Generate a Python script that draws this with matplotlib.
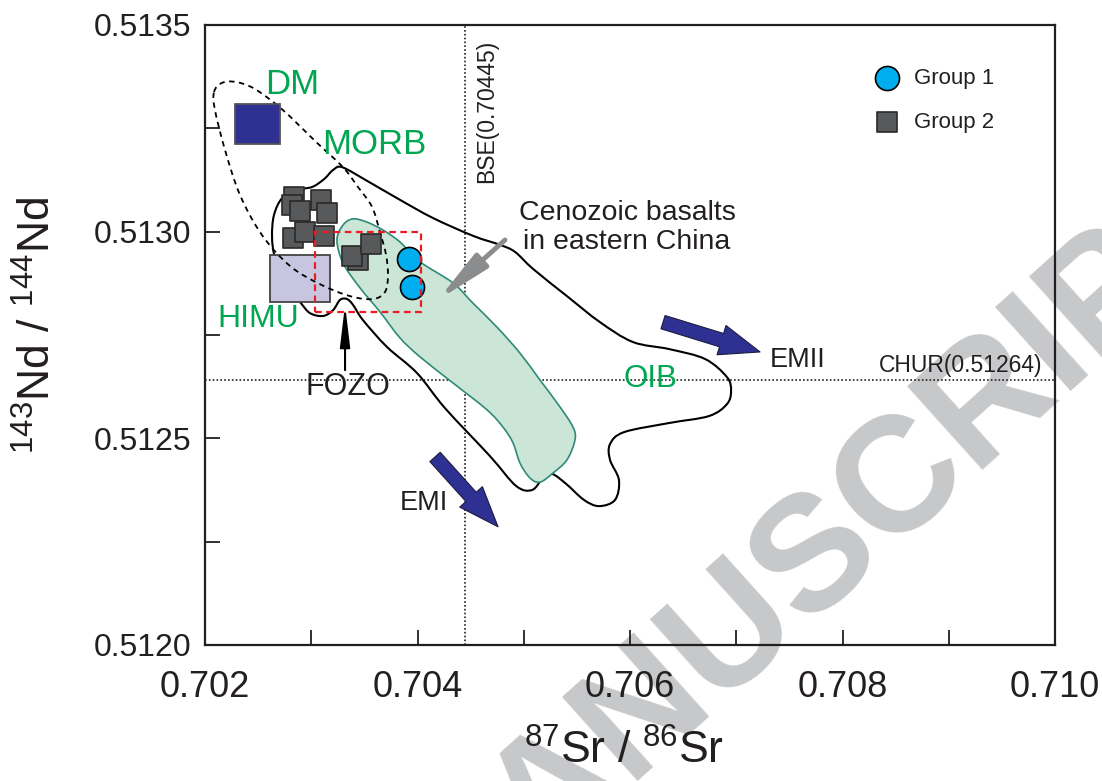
import numpy as np
import matplotlib.pyplot as plt
from matplotlib.path import Path
from matplotlib.patches import PathPatch, Rectangle

plt.rcParams['font.family'] = ['Liberation Sans', 'DejaVu Sans']
NARROW = ['Liberation Sans Narrow', 'Liberation Sans', 'DejaVu Sans']
INK = '#231F20'
GREEN = '#00A651'
NAVY = '#2E3192'

# samples: 87Sr/86Sr and 143Nd/144Nd
g1_sr = [0.70392, 0.70395]
g1_nd = [0.512934, 0.512866]
g2_sr = [0.702838, 0.702819, 0.702894, 0.703092, 0.703148, 0.702828,
         0.702941, 0.703120, 0.703440, 0.703384, 0.703562]
g2_nd = [0.513084, 0.513065, 0.513050, 0.513077, 0.513045, 0.512985,
         0.513000, 0.512990, 0.512931, 0.512941, 0.512970]

# end-member boxes: Sr min, Sr max, Nd min, Nd max
dm_box = [0.702282, 0.702706, 0.513212, 0.513309]
himu_box = [0.702612, 0.703176, 0.512830, 0.512944]
fozo_box = [0.703035, 0.704033, 0.512806, 0.512999]

bse_sr = 0.70445
chur_nd = 0.51264

# MORB + OIB field (solid outline)
field_sr = [0.703290, 0.703525, 0.703835, 0.704146, 0.704522, 0.704777, 0.704918,
            0.705087, 0.705407, 0.705718, 0.706028, 0.706367, 0.706706, 0.706913,
            0.706951, 0.706913, 0.706744, 0.706367, 0.705944, 0.705812, 0.705812,
            0.705896, 0.705859, 0.705708, 0.705567, 0.705398, 0.705266, 0.705181,
            0.705078, 0.704927, 0.704682, 0.704259, 0.703995, 0.703713, 0.703487,
            0.703393, 0.703336, 0.703271, 0.703205, 0.703111, 0.702988, 0.702894,
            0.702753, 0.702659, 0.702631, 0.702649, 0.702725, 0.702856, 0.703007,
            0.703120, 0.703205]
field_nd = [0.513156, 0.513123, 0.513077, 0.513033, 0.512990, 0.512968, 0.512951,
            0.512910, 0.512844, 0.512781, 0.512733, 0.512716, 0.512692, 0.512648,
            0.512615, 0.512583, 0.512554, 0.512537, 0.512515, 0.512486, 0.512448,
            0.512399, 0.512351, 0.512336, 0.512351, 0.512390, 0.512414, 0.512404,
            0.512375, 0.512385, 0.512457, 0.512573, 0.512658, 0.512721, 0.512786,
            0.512823, 0.512837, 0.512835, 0.512810, 0.512796, 0.512803, 0.512830,
            0.512876, 0.512936, 0.512987, 0.513040, 0.513081, 0.513101, 0.513108,
            0.513127, 0.513149]

# MORB field (dashed)
morb_sr = [0.702085, 0.702160, 0.702292, 0.702471, 0.702734, 0.703054, 0.703299,
           0.703440, 0.703572, 0.703647, 0.703704, 0.703722, 0.703694, 0.703581,
           0.703365, 0.703082, 0.702800, 0.702536, 0.702329, 0.702188, 0.702094]
morb_nd = [0.513338, 0.513360, 0.513362, 0.513345, 0.513294, 0.513215, 0.513156,
           0.513108, 0.513060, 0.512999, 0.512944, 0.512893, 0.512854, 0.512837,
           0.512844, 0.512873, 0.512917, 0.512992, 0.513089, 0.513198, 0.513294]

# Cenozoic basalts in eastern China
ceno_sr = [0.703242, 0.703299, 0.703393, 0.703525, 0.703675, 0.703835, 0.704024,
           0.704334, 0.704522, 0.704748, 0.704965, 0.705153, 0.705341, 0.705464,
           0.705482, 0.705407, 0.705275, 0.705153, 0.705059, 0.704965, 0.704899,
           0.704805, 0.704654, 0.704334, 0.704024, 0.703835, 0.703647, 0.703459,
           0.703299]
ceno_nd = [0.512980, 0.513016, 0.513031, 0.513023, 0.513004, 0.512975, 0.512927,
           0.512876, 0.512827, 0.512769, 0.512706, 0.512641, 0.512576, 0.512527,
           0.512496, 0.512448, 0.512416, 0.512394, 0.512404, 0.512440, 0.512489,
           0.512527, 0.512569, 0.512634, 0.512697, 0.512743, 0.512806, 0.512864,
           0.512924]

xticks = [0.702, 0.704, 0.706, 0.708, 0.710]
xtick_labels = ['0.702', '0.704', '0.706', '0.708', '0.710']
xminor = [0.703, 0.705, 0.707, 0.709]
yticks = [0.5120, 0.5125, 0.5130, 0.5135]
ytick_labels = ['0.5120', '0.5125', '0.5130', '0.5135']
yminor = [0.51225, 0.51275, 0.51325]


def closed_curve(xs, ys):
    # smooth closed outline (Catmull-Rom -> cubic Bezier)
    p = np.column_stack([xs, ys])
    n = len(p)
    verts = [p[0]]
    codes = [Path.MOVETO]
    for i in range(n):
        p0, p1, p2, p3 = p[i - 1], p[i], p[(i + 1) % n], p[(i + 2) % n]
        verts += [p1 + (p2 - p0) / 6, p2 - (p3 - p1) / 6, p2]
        codes += [Path.CURVE4] * 3
    verts.append(p[0])
    codes.append(Path.CLOSEPOLY)
    return Path(verts, codes)


def box(b, **kw):
    return Rectangle((b[0], b[2]), b[1] - b[0], b[3] - b[2], **kw)


fig = plt.figure(figsize=(11.02, 7.81), dpi=100)
ax = fig.add_axes([205 / 1102, 1 - 645 / 781, 850 / 1102, 620 / 781])
ax.set_facecolor('none')

# watermark behind the axes
fig.text(0.423, -0.125, 'ACCEPTED MANUSCRIPT', rotation=42, rotation_mode='anchor',
         ha='center', va='center', fontsize=118, fontweight='bold',
         color='#C7C8CA', zorder=-1)

# reference lines
ax.axvline(bse_sr, color=INK, lw=1.2, ls=(0, (1, 1.3)), zorder=1)
ax.axhline(chur_nd, color=INK, lw=1.2, ls=(0, (1, 1.3)), zorder=1)
ax.text(bse_sr + 0.0002, 0.51329, 'BSE(0.70445)', rotation=90, ha='center',
        va='center', fontsize=16.5, color=INK)
ax.text(0.70988, chur_nd + 0.000008, 'CHUR(0.51264)', ha='right', va='bottom',
        fontsize=16.5, color=INK)

# fields
ax.add_patch(PathPatch(closed_curve(field_sr, field_nd), fc='none', ec='black',
                       lw=1.5, zorder=2))
ax.add_patch(PathPatch(closed_curve(ceno_sr, ceno_nd), fc='#CBE6D6', ec='#2F8A78',
                       lw=1.2, zorder=2.2))
ax.add_patch(box(himu_box, fc='#C8C5E0', ec='#444444', lw=1.3, zorder=2.5))
ax.add_patch(PathPatch(closed_curve(morb_sr, morb_nd), fc='none', ec='black',
                       lw=1.3, ls=(0, (3, 2.5)), zorder=3))
ax.add_patch(box(dm_box, fc=NAVY, ec='#555555', lw=1.3, zorder=3.5))

# samples
h2 = ax.scatter(g2_sr, g2_nd, s=215, marker='s', c='#58595B', edgecolors='#2A2A2A',
                linewidths=1.2, zorder=4, label='Group 2')
h1 = ax.scatter(g1_sr, g1_nd, s=300, marker='o', c='#00AEEF', edgecolors='black',
                linewidths=1.2, zorder=4.5, label='Group 1')

ax.add_patch(box(fozo_box, fc='none', ec='#ED1C24', lw=1.6, ls=(0, (3, 2)), zorder=5))

# arrows
ax.annotate('', xy=(0.704193, 0.512835), xytext=(0.704824, 0.512980),
            arrowprops=dict(arrowstyle='-|>,head_length=3.2,head_width=0.55',
                            color='#8A8C8E', lw=3.5, mutation_scale=10,
                            shrinkA=0, shrinkB=0), zorder=5)
ax.annotate('', xy=(0.703318, 0.512823), xytext=(0.703318, 0.512665),
            arrowprops=dict(arrowstyle='-|>,head_length=2.5,head_width=0.3',
                            color='black', lw=1.5, mutation_scale=10,
                            shrinkA=0, shrinkB=0), zorder=5)
for tail, tip in [((0.706311, 0.512781), (0.707224, 0.512709)),
                  ((0.704165, 0.512455), (0.704758, 0.512286))]:
    ax.annotate('', xy=tip, xytext=tail,
                arrowprops=dict(arrowstyle='simple,head_length=2.9,head_width=2.2,tail_width=1.0',
                                fc=NAVY, ec='#1C1C40', lw=0.8, mutation_scale=10,
                                shrinkA=0, shrinkB=0), zorder=5)

# labels
ax.text(0.702819, 0.513357, 'DM', color=GREEN, fontsize=25, ha='center', va='center', zorder=6)
ax.text(0.703591, 0.513210, 'MORB', color=GREEN, fontsize=25, ha='center', va='center', zorder=6)
ax.text(0.702499, 0.512789, 'HIMU', color=GREEN, fontsize=23, ha='center', va='center', zorder=6)
ax.text(0.706188, 0.512644, 'OIB', color=GREEN, fontsize=22.5, ha='center', va='center', zorder=6)
ax.text(0.703346, 0.512624, 'FOZO', color=INK, fontsize=22, ha='center', va='center', zorder=6)
ax.text(0.707581, 0.512690, 'EMII', color=INK, fontsize=19.5, ha='center', va='center', zorder=6)
ax.text(0.704061, 0.512344, 'EMI', color=INK, fontsize=19.5, ha='center', va='center', zorder=6)
ax.text(0.705972, 0.513011, 'Cenozoic basalts\nin eastern China', color=INK,
        fontsize=20.5, ha='center', va='center', linespacing=1.15, zorder=6)

# axes
ax.set_xlim(0.702, 0.710)
ax.set_ylim(0.5120, 0.5135)
ax.set_xticks(xticks)
ax.set_xticklabels(xtick_labels, family=NARROW, fontsize=26, color=INK)
ax.set_xticks(xminor, minor=True)
ax.set_yticks(yticks)
ax.set_yticklabels(ytick_labels, fontsize=23, color=INK)
ax.set_yticks(yminor, minor=True)
ax.tick_params(which='both', direction='in', length=11, width=1.3, color=INK)
ax.tick_params(axis='x', which='major', pad=18)
ax.tick_params(axis='y', which='major', pad=10)
for sp in ax.spines.values():
    sp.set_linewidth(1.6)
    sp.set_color(INK)

ax.set_xlabel(r'$^{\mathregular{87}}$Sr / $^{\mathregular{86}}$Sr', family=NARROW,
              fontsize=32, color=INK, va='center')
ax.xaxis.set_label_coords(0.493, -0.172)
ax.set_ylabel(r'$^{\mathregular{143}}$Nd / $^{\mathregular{144}}$Nd', family=NARROW,
              fontsize=32, color=INK, va='center')
ax.yaxis.set_label_coords(-0.196, 0.515)

leg = ax.legend(handles=[h1, h2], loc='upper left', bbox_to_anchor=(0.763, 0.949),
                frameon=False, fontsize=16, handletextpad=0.2, labelspacing=1.05,
                borderpad=0, scatterpoints=1)
for t in leg.get_texts():
    t.set_color(INK)

fig.savefig('out.png', dpi=100)
